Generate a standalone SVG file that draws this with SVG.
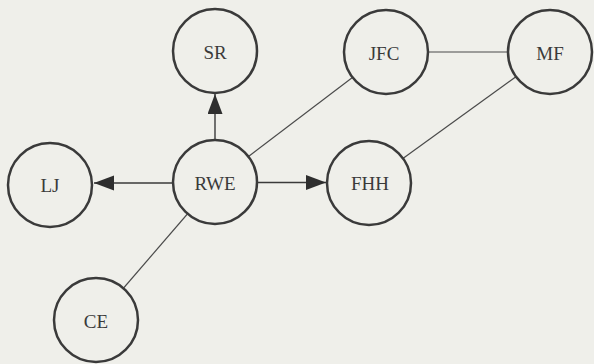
<svg xmlns="http://www.w3.org/2000/svg" width="594" height="364" viewBox="0 0 594 364">
<style>
.node circle{fill:#efefea;stroke:#3a3a3a;stroke-width:2.5}
.node text{font-family:"Liberation Serif",serif;font-size:19px;fill:#3a3a3a;text-anchor:middle;dominant-baseline:central}
.edge{stroke:#4a4a4a;stroke-width:1.2;fill:none}
.arrow{stroke:#3a3a3a;stroke-width:1.4;fill:none;marker-end:url(#ah)}
</style>
<defs>
<marker id="ah" markerUnits="userSpaceOnUse" markerWidth="22" markerHeight="16" refX="20" refY="7.5" orient="auto">
<path d="M0,0 L20,7.5 L0,15 z" fill="#2e2e2e"/>
</marker>
</defs>
<rect width="594" height="364" fill="#efefea"/>
<g id="connectors">
<line class="edge" x1="215" y1="182" x2="386" y2="52"/>
<line class="edge" x1="215" y1="182" x2="96" y2="320"/>
<line class="edge" x1="386" y1="52" x2="550" y2="52"/>
<line class="edge" x1="550" y1="52" x2="369" y2="183"/>
<line class="arrow" x1="215" y1="140" x2="215" y2="94"/>
<line class="arrow" x1="173" y1="183" x2="94" y2="183"/>
<line class="arrow" x1="257" y1="182.5" x2="326" y2="182.5"/>
</g>
<g id="SR" class="node"><circle cx="215" cy="51" r="42"/><text x="215" y="52">SR</text></g>
<g id="JFC" class="node"><circle cx="386" cy="52" r="42"/><text x="384" y="53">JFC</text></g>
<g id="MF" class="node"><circle cx="550" cy="52" r="42"/><text x="550" y="53">MF</text></g>
<g id="LJ" class="node"><circle cx="50" cy="185" r="42"/><text x="50" y="185">LJ</text></g>
<g id="RWE" class="node"><circle cx="215" cy="182" r="42"/><text x="215" y="183">RWE</text></g>
<g id="FHH" class="node"><circle cx="369" cy="183" r="42"/><text x="370" y="183">FHH</text></g>
<g id="CE" class="node"><circle cx="96" cy="320" r="42"/><text x="96" y="321">CE</text></g>
</svg>
